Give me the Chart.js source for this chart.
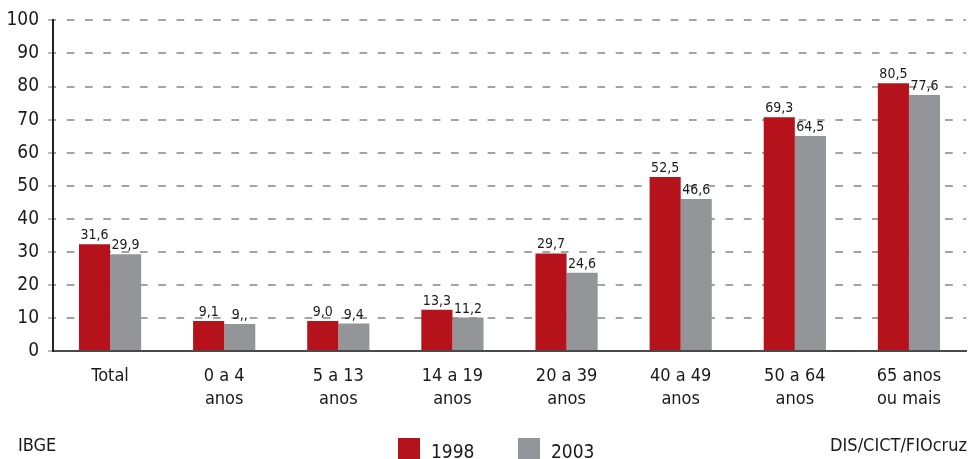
<!DOCTYPE html>
<html>
<head>
<meta charset="utf-8">
<script src="https://cdn.jsdelivr.net/npm/chart.js@4.4.1/dist/chart.umd.min.js"></script>
<style>
  html, body { margin: 0; padding: 0; background: #fff; }
  #wrap { width: 969px; height: 459px; position: relative; }
</style>
</head>
<body>
<div id="wrap"><canvas id="chart" width="969" height="459"></canvas></div>
<script>
// categories (x axis)
const categories = ['Total', ['0 a 4', 'anos'], ['5 a 13', 'anos'], ['14 a 19', 'anos'],
    ['20 a 39', 'anos'], ['40 a 49', 'anos'], ['50 a 64', 'anos'], ['65 anos', 'ou mais']];

// bar heights
const values1998 = [32.3, 9.1, 9.1, 12.5, 29.5, 52.6, 70.7, 81.0];
const values2003 = [29.3, 8.2, 8.3, 10.1, 23.7, 46.0, 65.0, 77.4];

// printed labels above the bars (as they appear)
const labels1998 = ['31,6', '9,1', '9,0', '13,3', '29,7', '52,5', '69,3', '80,5'];
const labels2003 = ['29,9', '9,,', '9,4', '11,2', '24,6', '46,6', '64,5', '77,6'];

const yTicks = [0, 10, 20, 30, 40, 50, 60, 70, 80, 90, 100];

const FONT = '"Liberation Sans Narrow", "DejaVu Sans Condensed", "Liberation Sans", sans-serif';
const RED = '#b5121b';
const GREY = '#939598';

// value labels over the bars
const valueLabels = {
    id: 'valueLabels',
    afterDatasetsDraw(chart) {
        const ctx = chart.ctx;
        const texts = [labels1998, labels2003];
        ctx.save();
        ctx.font = '14px ' + FONT;
        ctx.fillStyle = '#1a1a1a';
        ctx.textAlign = 'center';
        ctx.textBaseline = 'alphabetic';
        chart.data.datasets.forEach((ds, i) => {
            chart.getDatasetMeta(i).data.forEach((bar, j) => {
                ctx.fillText(texts[i][j], bar.x, bar.y - 5);
            });
        });
        ctx.restore();
    }
};

// footer: source, legend, credits
const footer = {
    id: 'footer',
    afterDraw(chart, args, opts) {
        const ctx = chart.ctx;
        ctx.save();
        ctx.font = '18px ' + FONT;
        ctx.fillStyle = '#1a1a1a';
        ctx.textBaseline = 'alphabetic';
        ctx.textAlign = 'left';
        ctx.fillText('IBGE', 18, opts.baseline);
        ctx.textAlign = 'right';
        ctx.fillText('DIS/CICT/FIOcruz', chart.width - 2, opts.baseline);

        ctx.textAlign = 'left';
        ctx.font = '19px ' + FONT;
        let x = opts.legendX;
        chart.data.datasets.forEach((ds) => {
            ctx.fillStyle = ds.backgroundColor;
            ctx.fillRect(x, 438, 22, 21);
            ctx.fillStyle = '#1a1a1a';
            ctx.fillText(ds.label, x + 33, 457.5);
            x += 120;
        });
        ctx.restore();
    }
};

new Chart(document.getElementById('chart'), {
    type: 'bar',
    data: {
        labels: categories,
        datasets: [
            { label: '1998', data: values1998, backgroundColor: RED },
            { label: '2003', data: values2003, backgroundColor: GREY }
        ]
    },
    options: {
        responsive: false,
        animation: false,
        devicePixelRatio: 1,
        layout: { padding: { top: 20, right: 3, bottom: 28, left: 0 } },
        datasets: {
            bar: { categoryPercentage: 0.545, barPercentage: 1.0 }
        },
        plugins: {
            legend: { display: false },
            tooltip: { enabled: false },
            footer: { baseline: 451, legendX: 398 }
        },
        scales: {
            x: {
                z: 1,
                grid: { display: false },
                border: { display: true, color: '#4a4a4a', width: 2 },
                ticks: {
                    color: '#1a1a1a',
                    padding: 6,
                    font: { family: FONT, size: 18, lineHeight: '22.6px' }
                },
                afterFit(scale) { scale.height = 80; }
            },
            y: {
                min: 0,
                max: 100,
                afterBuildTicks(scale) { scale.ticks = yTicks.map(v => ({ value: v })); },
                grid: {
                    color: '#a3a3a3',
                    lineWidth: 2,
                    drawTicks: true,
                    tickLength: 5,
                    tickColor: '#a3a3a3',
                    tickBorderDash: [],
                    tickWidth: 1.5
                },
                border: { display: true, color: '#222', width: 2, dash: [7.7, 10.6], dashOffset: 5.6 },
                ticks: {
                    color: '#1a1a1a',
                    padding: 9,
                    font: { family: FONT, size: 19 }
                },
                afterFit(scale) { scale.width = 53; }
            }
        }
    },
    plugins: [valueLabels, footer]
});
</script>
</body>
</html>
